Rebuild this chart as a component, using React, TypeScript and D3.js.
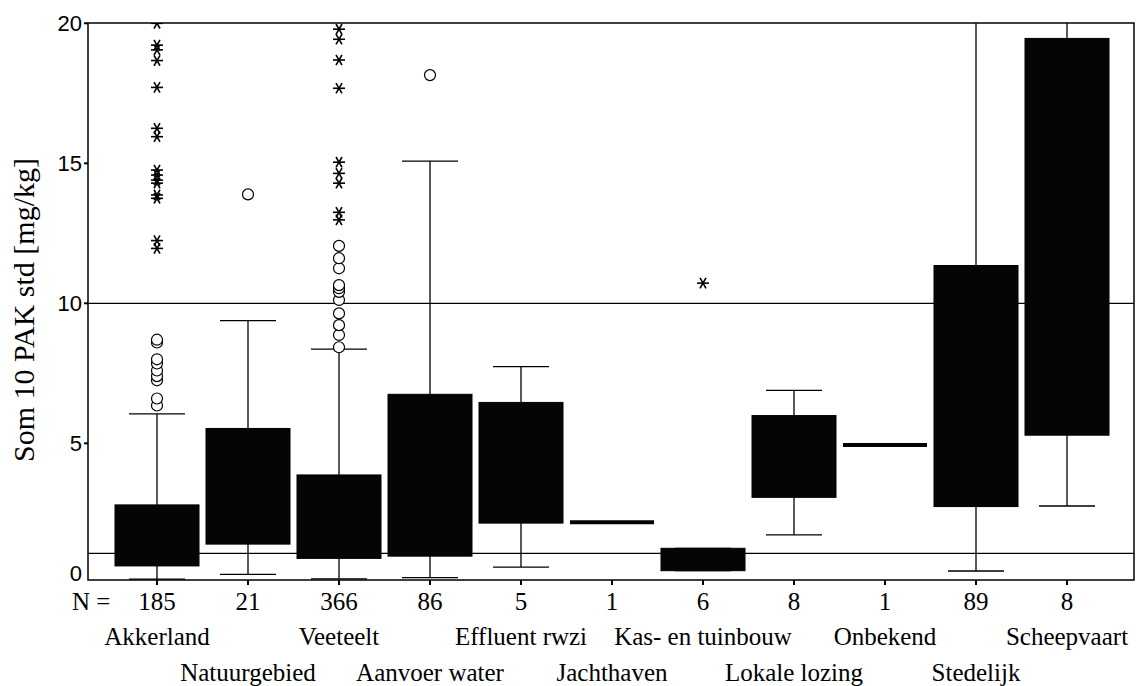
import React from "react";
import * as d3 from "d3";

// categories and counts
const categories = [
  "Akkerland", "Natuurgebied", "Veeteelt", "Aanvoer water", "Effluent rwzi",
  "Jachthaven", "Kas- en tuinbouw", "Lokale lozing", "Onbekend", "Stedelijk", "Scheepvaart",
];
const counts = [185, 21, 366, 86, 5, 1, 6, 8, 1, 89, 8];

// box statistics (mg/kg)
const q1 = [0.62, 1.4, 0.89, 0.97, 2.15, 2.18, 0.45, 3.07, 4.94, 2.74, 5.29];
const q3 = [2.8, 5.53, 3.87, 6.75, 6.46, 2.18, 1.25, 5.99, 4.94, 11.35, 19.46];
const whiskerLow = [0.15, 0.32, 0.16, 0.2, 0.58, 2.18, 0.45, 1.73, 4.94, 0.44, 2.76];
const whiskerHigh = [6.05, 9.38, 8.36, 15.08, 7.74, 2.18, 1.25, 6.89, 4.94, 25, 25];

// outliers (circles) and extremes (stars)
const outliers = [
  [6.35, 6.6, 7.25, 7.4, 7.6, 7.85, 8.0, 8.6, 8.7],
  [13.89],
  [8.43, 8.87, 9.22, 9.64, 10.12, 10.41, 10.54, 10.65, 11.25, 11.61, 12.05],
  [18.15],
  [], [], [], [], [], [], [],
];
const extremes = [
  [11.96, 12.24, 13.75, 13.87, 14.29, 14.4, 14.58, 14.76, 15.95, 16.25, 17.71, 18.67, 19.05, 19.22, 20.0],
  [],
  [12.98, 13.25, 14.29, 14.64, 15.04, 17.68, 18.69, 19.43, 19.79],
  [], [],
  [],
  [10.72],
  [], [], [], [],
];

const yTicks = [0, 5, 10, 15, 20];
const refLines = [1.07, 10];

const App = () => {
  const left = 88;
  const right = 1134;
  const top = 23;
  const bottom = 580;

  const y = d3.scaleLinear().domain([0, 20]).range([583.3, 23.3]);
  const x = d3.scalePoint<string>().domain(categories).range([157, 1067]);

  const boxHalf = 42;
  const capHalf = 28;
  const serif = "'Liberation Serif', 'Times New Roman', serif";
  const sans = "'Liberation Sans', Arial, sans-serif";

  // SPSS-style extreme marker
  const star = (cx: number, cy: number, key: string) => {
    const r = 6;
    const a = Math.PI / 3;
    return (
      <g key={key} stroke="#000" strokeWidth={1.6}>
        <line x1={cx - r} y1={cy} x2={cx + r} y2={cy} />
        <line x1={cx - r * Math.cos(a)} y1={cy - r * Math.sin(a)} x2={cx + r * Math.cos(a)} y2={cy + r * Math.sin(a)} />
        <line x1={cx + r * Math.cos(a)} y1={cy - r * Math.sin(a)} x2={cx - r * Math.cos(a)} y2={cy + r * Math.sin(a)} />
      </g>
    );
  };

  return (
    <svg
      width={1136}
      height={686}
      style={{ position: "absolute", left: 0, top: 0, background: "#fff" }}
    >
      <defs>
        <clipPath id="plot">
          <rect x={left} y={top} width={right - left} height={bottom - top} />
        </clipPath>
      </defs>

      {/* reference lines */}
      {refLines.map((v) => (
        <line key={v} x1={left} x2={right} y1={y(v)} y2={y(v)} stroke="#000" strokeWidth={1.2} />
      ))}

      <g clipPath="url(#plot)">
        {categories.map((c, i) => {
          const cx = x(c) as number;
          if (counts[i] === 1) {
            return (
              <rect key={c} x={cx - boxHalf} y={y(q1[i]) - 2} width={boxHalf * 2} height={4} fill="#000" />
            );
          }
          return (
            <g key={c} stroke="#000">
              <line x1={cx} x2={cx} y1={y(q3[i])} y2={y(whiskerHigh[i])} strokeWidth={1.3} />
              <line x1={cx} x2={cx} y1={y(q1[i])} y2={y(whiskerLow[i])} strokeWidth={1.3} />
              <line x1={cx - capHalf} x2={cx + capHalf} y1={y(whiskerHigh[i])} y2={y(whiskerHigh[i])} strokeWidth={1.3} />
              <line x1={cx - capHalf} x2={cx + capHalf} y1={y(whiskerLow[i])} y2={y(whiskerLow[i])} strokeWidth={1.3} />
              <rect
                x={cx - boxHalf}
                y={y(q3[i])}
                width={boxHalf * 2}
                height={y(q1[i]) - y(q3[i])}
                fill="#050505"
                strokeWidth={1}
              />
            </g>
          );
        })}

        {outliers.map((vals, i) =>
          vals.map((v, j) => (
            <circle
              key={`o${i}-${j}`}
              cx={x(categories[i]) as number}
              cy={y(v)}
              r={5.5}
              fill="#fff"
              stroke="#000"
              strokeWidth={1.2}
            />
          ))
        )}
        {extremes.map((vals, i) => vals.map((v, j) => star(x(categories[i]) as number, y(v), `s${i}-${j}`)))}
      </g>

      {/* frame */}
      <rect x={left} y={top} width={right - left} height={bottom - top} fill="none" stroke="#000" strokeWidth={1.5} />

      {/* y axis */}
      {yTicks.map((t) => (
        <g key={t}>
          {t > 0 && <line x1={left - 4} x2={left} y1={y(t)} y2={y(t)} stroke="#000" strokeWidth={2} />}
          <text
            x={82}
            y={Math.min(y(t), 573)}
            dy="0.36em"
            textAnchor="end"
            fontFamily={sans}
            fontSize={22}
          >
            {t}
          </text>
        </g>
      ))}
      <text
        transform={`translate(34,310) rotate(-90)`}
        textAnchor="middle"
        fontFamily={serif}
        fontSize={30}
      >
        Som 10 PAK std [mg/kg]
      </text>

      {/* x axis ticks, counts and labels */}
      <text x={72} y={610} fontFamily={serif} fontSize={25}>
        N =
      </text>
      {categories.map((c, i) => {
        const cx = x(c) as number;
        return (
          <g key={c}>
            <line x1={cx} x2={cx} y1={bottom} y2={bottom + 5} stroke="#000" strokeWidth={2} />
            <text x={cx} y={610} textAnchor="middle" fontFamily={serif} fontSize={25}>
              {counts[i]}
            </text>
            <text
              x={cx}
              y={i % 2 === 0 ? 645 : 681}
              textAnchor="middle"
              fontFamily={serif}
              fontSize={25}
            >
              {c}
            </text>
          </g>
        );
      })}
    </svg>
  );
};

export default App;
